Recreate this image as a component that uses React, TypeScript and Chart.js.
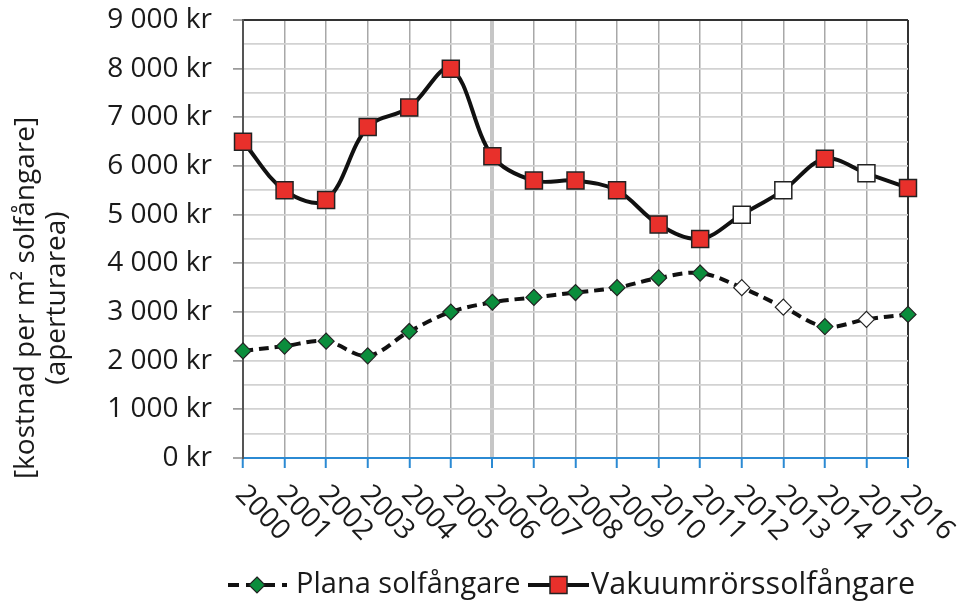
import React, { useEffect, useRef } from "react";
import { Chart, registerables } from "chart.js";

Chart.register(...registerables);

const years = ["2000", "2001", "2002", "2003", "2004", "2005", "2006", "2007", "2008", "2009", "2010", "2011", "2012", "2013", "2014", "2015", "2016"];
const plana = [2200, 2300, 2400, 2100, 2600, 3000, 3200, 3300, 3400, 3500, 3700, 3800, 3500, 3100, 2700, 2850, 2950];
const vakuum = [6500, 5500, 5300, 6800, 7200, 8000, 6200, 5700, 5700, 5500, 4800, 4500, 5000, 5500, 6150, 5850, 5550];
const planaHollow = [false, false, false, false, false, false, false, false, false, false, false, false, true, true, false, true, false];
const vakuumHollow = [false, false, false, false, false, false, false, false, false, false, false, false, true, true, false, true, false];
const seriesNames = ["Plana solfångare", "Vakuumrörssolfångare"];
const yTitle = ["[kostnad per m² solfångare]", "(aperturarea)"];
const yMax = 9000;

const FONT = '"Open Sans", "Noto Sans", sans-serif';
const GREEN = "#0b8d3c";
const RED = "#e8302b";
const BLUE = "#2b8ad3";

const fmt = (v: number) => (v === 0 ? "0 kr" : `${Math.round(v / 1000)} 000 kr`);

const customDraw = {
  id: "customDraw",
  afterDraw(chart: any) {
    const ctx = chart.ctx;
    const xs = chart.scales.x;
    const area = chart.chartArea;
    ctx.save();
    ctx.fillStyle = "#1a1a1a";
    // x labels rotated
    ctx.font = `28px ${FONT}`;
    ctx.textAlign = "left";
    ctx.textBaseline = "middle";
    years.forEach((lab, i) => {
      const x = xs.getPixelForValue(i);
      ctx.save();
      ctx.translate(x - 3, area.bottom + 32);
      ctx.rotate((46 * Math.PI) / 180);
      ctx.fillText(lab, 0, 0);
      ctx.restore();
    });
    // y title
    ctx.save();
    ctx.textAlign = "center";
    ctx.textBaseline = "middle";
    ctx.font = `28px ${FONT}`;
    ctx.translate(26, 298);
    ctx.rotate(-Math.PI / 2);
    ctx.fillText(yTitle[0], 0, 0);
    ctx.fillText(yTitle[1], 0, 31);
    ctx.restore();
    // legend
    const ly = 585;
    ctx.lineWidth = 4;
    ctx.strokeStyle = "#111";
    ctx.setLineDash([11, 7]);
    ctx.beginPath();
    ctx.moveTo(228, ly);
    ctx.lineTo(287, ly);
    ctx.stroke();
    ctx.setLineDash([]);
    ctx.beginPath();
    ctx.moveTo(257, ly - 8);
    ctx.lineTo(265, ly);
    ctx.lineTo(257, ly + 8);
    ctx.lineTo(249, ly);
    ctx.closePath();
    ctx.fillStyle = GREEN;
    ctx.fill();
    ctx.lineWidth = 1.2;
    ctx.strokeStyle = "#222";
    ctx.stroke();
    ctx.fillStyle = "#1a1a1a";
    ctx.textAlign = "left";
    ctx.font = `29px ${FONT}`;
    ctx.fillText(seriesNames[0], 296, ly);

    ctx.lineWidth = 4;
    ctx.strokeStyle = "#111";
    ctx.beginPath();
    ctx.moveTo(528, ly);
    ctx.lineTo(589, ly);
    ctx.stroke();
    ctx.fillStyle = RED;
    ctx.fillRect(550, ly - 8.5, 17, 17);
    ctx.lineWidth = 1.5;
    ctx.strokeStyle = "#222";
    ctx.strokeRect(550, ly - 8.5, 17, 17);
    ctx.fillStyle = "#1a1a1a";
    ctx.font = `30.5px ${FONT}`;
    ctx.fillText(seriesNames[1], 591, ly);
    ctx.restore();
  },
};

export default function App() {
  const ref = useRef<HTMLCanvasElement>(null);
  useEffect(() => {
    document.body.style.margin = "0";
    const chart = new Chart(ref.current as HTMLCanvasElement, {
      type: "line",
      data: {
        labels: years,
        datasets: [
          {
            label: seriesNames[0],
            data: plana,
            borderColor: "#111",
            borderWidth: 4,
            borderDash: [10, 6],
            tension: 0.35,
            pointStyle: "rectRot",
            pointRadius: 8,
            pointBackgroundColor: planaHollow.map((h) => (h ? "#fff" : GREEN)),
            pointBorderColor: "#222",
            pointBorderWidth: 1.2,
            clip: false as any,
          },
          {
            label: seriesNames[1],
            data: vakuum,
            borderColor: "#111",
            borderWidth: 4,
            tension: 0.35,
            pointStyle: "rect",
            pointRadius: 12,
            pointBackgroundColor: vakuumHollow.map((h) => (h ? "#fff" : RED)),
            pointBorderColor: "#222",
            pointBorderWidth: 1.5,
            clip: false as any,
          },
        ],
      },
      options: {
        responsive: false,
        animation: false,
        devicePixelRatio: 1,
        layout: { padding: { top: 20, right: 55, left: 0, bottom: 0 } },
        plugins: { legend: { display: false }, tooltip: { enabled: false } },
        scales: {
          x: {
            type: "category",
            offset: false,
            ticks: { display: false },
            grid: {
              color: (c: any) => (c.index === 16 ? "#333" : c.index === 0 ? "#555" : c.index === 6 ? "#c6c6c6" : "#a8a8a8"),
              lineWidth: (c: any) => (c.index === 6 ? 4 : c.index === 16 ? 2 : 1.5),
              tickColor: BLUE,
              tickLength: 10,
              tickWidth: 2,
            },
            border: { display: true, color: BLUE, width: 2 },
            afterFit: (s: any) => {
              s.height = 152;
              s.paddingLeft = 0;
              s.paddingRight = 0;
            },
          },
          y: {
            min: 0,
            max: yMax,
            ticks: {
              stepSize: 500,
              autoSkip: false,
              padding: 21,
              color: "#1a1a1a",
              font: { family: FONT, size: 28 },
              callback: (v: any) => (Number(v) % 1000 === 0 ? fmt(Number(v)) : ""),
            },
            grid: {
              color: (c: any) => (c.tick && c.tick.value === yMax ? "#333" : c.tick && c.tick.value === 0 ? BLUE : "#d2d2d2"),
              lineWidth: (c: any) => (c.tick && (c.tick.value === yMax || c.tick.value === 0) ? 2 : 1.8),
              tickColor: (c: any) => (c.tick && c.tick.value % 1000 === 0 ? "#8a8a8a" : "rgba(0,0,0,0)"),
              tickLength: 10,
              tickWidth: 1.5,
            },
            border: { display: true, color: "#555", width: 2 },
            afterFit: (s: any) => {
              s.width = 243;
              s.paddingTop = 0;
              s.paddingBottom = 0;
            },
          },
        },
      },
      plugins: [customDraw],
    });
    return () => chart.destroy();
  }, []);
  return (
    <div style={{ width: 963, height: 610, background: "#fff" }}>
      <canvas ref={ref} width={963} height={610} />
    </div>
  );
}
